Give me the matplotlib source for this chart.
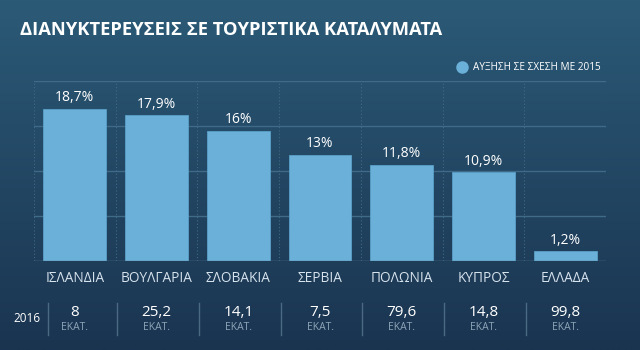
import numpy as np
import matplotlib
matplotlib.use("Agg")
import matplotlib.pyplot as plt
from matplotlib import transforms

plt.rcParams['font.family'] = ['Open Sans', 'DejaVu Sans']

# --- DATA ---
countries = ["ΙΣΛΑΝΔΙΑ", "ΒΟΥΛΓΑΡΙΑ", "ΣΛΟΒΑΚΙΑ", "ΣΕΡΒΙΑ", "ΠΟΛΩΝΙΑ", "ΚΥΠΡΟΣ", "ΕΛΛΑΔΑ"]
growth = [18.7, 17.9, 16.0, 13.0, 11.8, 10.9, 1.2]
growth_labels = ["18,7%", "17,9%", "16%", "13%", "11,8%", "10,9%", "1,2%"]
nights_2016 = ["8", "25,2", "14,1", "7,5", "79,6", "14,8", "99,8"]

BAR = "#6ab0d8"
TOP_BG = "#2b5a77"
BOT_BG = "#1a3450"
GRID = "#3f6a88"

fig = plt.figure(figsize=(6.4, 3.5), dpi=100)

# --- BACKGROUND GRADIENT ---
bg = fig.add_axes([0, 0, 1, 1], zorder=-10)
c1 = np.array(matplotlib.colors.to_rgb(TOP_BG))
c2 = np.array(matplotlib.colors.to_rgb(BOT_BG))
t = np.linspace(0, 1, 256)[:, None, None]
grad = c1 * (1 - t) + c2 * t
bg.imshow(grad, aspect="auto", extent=[0, 1, 0, 1], origin="upper")
bg.axis("off")

# --- MAIN AXES ---
ax = fig.add_axes([34 / 640, 89 / 350, 572 / 640, 180 / 350])
ax.patch.set_alpha(0)
ymax = 22.1
x = np.arange(len(countries))
ax.set_xlim(-0.5, len(countries) - 0.5)
ax.set_ylim(0, ymax)

for y in [ymax * 0.25, ymax * 0.5, ymax * 0.75, ymax]:
    ax.axhline(y, color=GRID, lw=1, zorder=0)
for xb in np.arange(-0.5, len(countries), 1.0):
    ax.axvline(xb, color=GRID, lw=0.8, ls=(0, (1, 2)), zorder=0)

ax.bar(x, growth, width=0.77, color=BAR, edgecolor="#5a9fc8", lw=0.6, zorder=2)
for xi, v, lab in zip(x, growth, growth_labels):
    ax.text(xi, v + 0.45, lab, ha="center", va="bottom", color="white",
            fontsize=10, zorder=3)

ax.axhline(0, color="#5f7f96", lw=1, zorder=3)
for s in ax.spines.values():
    s.set_visible(False)
ax.set_xticks([])
ax.set_yticks([])

# --- CATEGORY LABELS + 2016 ROW ---
tr = transforms.blended_transform_factory(ax.transData, fig.transFigure)
for xi, name, val in zip(x, countries, nights_2016):
    fig.text(xi, 1 - 279 / 350, name, transform=tr, ha="center", va="center",
             color="#d6e2ec", fontsize=9.8)
    fig.text(xi, 1 - 312 / 350, val, transform=tr, ha="center", va="center",
             color="white", fontsize=11)
    fig.text(xi, 1 - 328 / 350, "ΕΚΑΤ.", transform=tr, ha="center", va="center",
             color="#8ea5b8", fontsize=7.5)
    sep_x = xi - 0.48 if xi > 0 else -0.33
    fig.add_artist(plt.Line2D([sep_x, sep_x], [1 - 303 / 350, 1 - 335 / 350],
                              transform=tr, color="#4a6a84", lw=1))

fig.text(27 / 640, 1 - 319 / 350, "2016", ha="center", va="center",
         color="white", fontsize=8.5)

# --- TITLE + LEGEND ---
fig.text(20 / 640, 1 - 30 / 350, "ΔΙΑΝΥΚΤΕΡΕΥΣΕΙΣ ΣΕ ΤΟΥΡΙΣΤΙΚΑ ΚΑΤΑΛΥΜΑΤΑ",
         ha="left", va="center", color="white", fontsize=13.2, fontweight="bold")
fig.add_artist(plt.Line2D([462 / 640], [1 - 67 / 350], marker="o", ms=8,
                          color=BAR, transform=fig.transFigure))
fig.text(473 / 640, 1 - 67 / 350, "ΑΥΞΗΣΗ ΣΕ ΣΧΕΣΗ ΜΕ 2015", ha="left",
         va="center", color="white", fontsize=7.2)

fig.savefig("out.png", dpi=100)
